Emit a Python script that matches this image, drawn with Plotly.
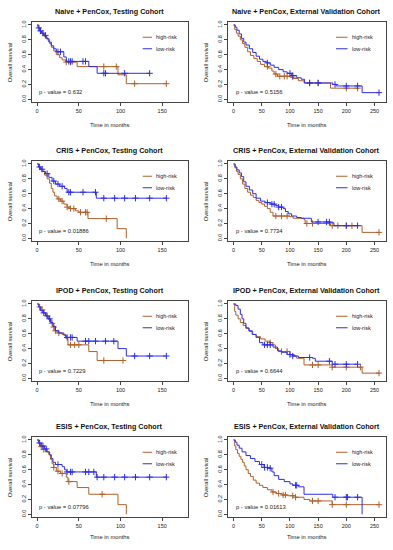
import plotly.graph_objects as go

# ---------------- data ----------------
titles = [
    "Naive + PenCox, Testing Cohort", "Naive + PenCox, External Validation Cohort",
    "CRIS + PenCox, Testing Cohort", "CRIS + PenCox, External Validation Cohort",
    "IPOD + PenCox, Testing Cohort", "IPOD + PenCox, External Validation Cohort",
    "ESIS + PenCox, Testing Cohort", "ESIS + PenCox, External Validation Cohort",
]
p_values = ["0.632", "0.5156", "0.01886", "0.7734", "0.7229", "0.6644", "0.07796", "0.01613"]
group_labels = ["high-risk", "low-risk"]
test_xticks = [0, 50, 100, 150]
ext_xticks = [0, 50, 100, 150, 200, 250]
y_ticks = [0.0, 0.2, 0.4, 0.6, 0.8, 1.0]
y_ticklabels = ["0.0", "0.2", "0.4", "0.6", "0.8", "1.0"]

# Panel 1: Naive testing
naive_test_hi_t = [0, 2, 4, 6, 9, 12, 15, 17, 20, 23, 27, 30, 34, 48, 97, 107, 155]
naive_test_hi_s = [1.0, 0.96, 0.92, 0.88, 0.84, 0.80, 0.75, 0.70, 0.65, 0.60, 0.56, 0.53, 0.50, 0.44, 0.33, 0.21, 0.21]
naive_test_hi_c = [35, 40, 80, 95, 117, 155]
naive_test_lo_t = [0, 1, 3, 5, 8, 11, 14, 17, 20, 23, 32, 35, 62, 72, 135]
naive_test_lo_s = [1.0, 0.96, 0.92, 0.89, 0.86, 0.82, 0.77, 0.72, 0.68, 0.64, 0.57, 0.51, 0.44, 0.35, 0.35]
naive_test_lo_c = [2, 4, 7, 10, 25, 28, 38, 40, 42, 55, 58, 80, 82, 105, 135]

# Panel 2: Naive external
naive_ext_hi_t = [0, 2, 5, 8, 12, 16, 20, 25, 30, 36, 42, 48, 55, 62, 68, 72, 78, 100, 106, 115, 125, 172, 220]
naive_ext_hi_s = [1.0, 0.94, 0.89, 0.85, 0.80, 0.75, 0.70, 0.64, 0.59, 0.55, 0.51, 0.47, 0.44, 0.42, 0.38, 0.34, 0.31, 0.30, 0.28, 0.25, 0.22, 0.15, 0.15]
naive_ext_hi_c = [60, 75, 82, 90, 95, 105, 135, 150, 200, 220]
naive_ext_lo_t = [0, 3, 6, 10, 14, 18, 22, 28, 34, 40, 46, 52, 58, 65, 72, 80, 88, 95, 103, 112, 120, 126, 176, 182, 228, 258]
naive_ext_lo_s = [1.0, 0.97, 0.93, 0.88, 0.82, 0.77, 0.73, 0.68, 0.63, 0.58, 0.54, 0.51, 0.49, 0.46, 0.43, 0.40, 0.37, 0.35, 0.32, 0.29, 0.27, 0.22, 0.20, 0.18, 0.09, 0.09]
naive_ext_lo_c = [60, 100, 105, 135, 150, 180, 200, 220, 258]

# Panel 3: CRIS testing
cris_test_hi_t = [0, 2, 5, 9, 12, 15, 17, 19, 21, 24, 28, 32, 36, 40, 46, 50, 61, 96, 107]
cris_test_hi_s = [1.0, 0.95, 0.90, 0.85, 0.80, 0.74, 0.67, 0.62, 0.57, 0.53, 0.50, 0.46, 0.42, 0.40, 0.37, 0.35, 0.265, 0.13, 0.0]
cris_test_hi_c = [26, 30, 36, 40, 44, 52, 58, 60, 83]
cris_test_lo_t = [0, 2, 4, 7, 10, 14, 18, 22, 27, 33, 36, 71, 155]
cris_test_lo_s = [1.0, 0.96, 0.93, 0.90, 0.87, 0.82, 0.77, 0.73, 0.70, 0.67, 0.62, 0.54, 0.54]
cris_test_lo_c = [3, 6, 12, 20, 25, 30, 38, 40, 55, 70, 80, 93, 105, 118, 135, 155]

# Panel 4: CRIS external
cris_ext_hi_t = [0, 2, 5, 8, 12, 16, 20, 25, 30, 35, 40, 45, 50, 55, 60, 65, 70, 100, 106, 125, 127, 172, 228, 258]
cris_ext_hi_s = [1.0, 0.95, 0.90, 0.86, 0.80, 0.73, 0.67, 0.62, 0.58, 0.55, 0.51, 0.48, 0.46, 0.43, 0.40, 0.35, 0.30, 0.29, 0.27, 0.25, 0.20, 0.17, 0.08, 0.08]
cris_ext_hi_c = [75, 85, 95, 130, 140, 175, 185, 200, 210, 258]
cris_ext_lo_t = [0, 3, 6, 10, 14, 18, 22, 28, 34, 40, 48, 56, 66, 74, 80, 88, 92, 97, 103, 112, 120, 138, 172, 178, 220]
cris_ext_lo_s = [1.0, 0.96, 0.92, 0.88, 0.83, 0.76, 0.70, 0.65, 0.60, 0.54, 0.50, 0.48, 0.46, 0.44, 0.42, 0.40, 0.36, 0.33, 0.30, 0.28, 0.27, 0.22, 0.21, 0.17, 0.17]
cris_ext_lo_c = [60, 68, 72, 80, 85, 150, 165, 170, 200, 220]

# Panel 5: IPOD testing
ipod_test_hi_t = [0, 2, 5, 8, 11, 14, 17, 19, 21, 24, 30, 34, 37, 62, 72, 103]
ipod_test_hi_s = [1.0, 0.96, 0.92, 0.88, 0.83, 0.79, 0.74, 0.69, 0.64, 0.61, 0.59, 0.54, 0.45, 0.36, 0.24, 0.24]
ipod_test_hi_c = [3, 6, 18, 20, 22, 26, 40, 45, 50, 80, 103]
ipod_test_lo_t = [0, 2, 4, 7, 10, 13, 16, 19, 22, 26, 32, 35, 48, 97, 107, 155]
ipod_test_lo_s = [1.0, 0.96, 0.91, 0.88, 0.84, 0.80, 0.75, 0.70, 0.64, 0.61, 0.58, 0.55, 0.50, 0.40, 0.30, 0.30]
ipod_test_lo_c = [8, 12, 15, 36, 40, 42, 58, 62, 70, 82, 92, 117, 135, 155]

# Panel 6: IPOD external
ipod_ext_hi_t = [0, 2, 4, 8, 12, 17, 22, 28, 34, 40, 48, 56, 64, 70, 74, 80, 100, 108, 112, 125, 175, 228, 258]
ipod_ext_hi_s = [1.0, 0.90, 0.85, 0.80, 0.75, 0.71, 0.67, 0.63, 0.59, 0.56, 0.53, 0.50, 0.48, 0.45, 0.40, 0.36, 0.32, 0.30, 0.27, 0.18, 0.15, 0.07, 0.07]
ipod_ext_hi_c = [65, 85, 95, 140, 150, 175, 200, 225, 258]
ipod_ext_lo_t = [0, 4, 8, 12, 15, 18, 22, 27, 33, 40, 46, 52, 70, 78, 85, 95, 105, 115, 140, 145, 175, 220]
ipod_ext_lo_s = [1.0, 0.98, 0.93, 0.86, 0.80, 0.74, 0.68, 0.64, 0.59, 0.55, 0.48, 0.45, 0.42, 0.37, 0.35, 0.32, 0.30, 0.28, 0.27, 0.23, 0.19, 0.19]
ipod_ext_lo_c = [55, 60, 65, 100, 105, 135, 170, 180, 200, 220]

# Panel 7: ESIS testing
esis_test_hi_t = [0, 2, 4, 7, 10, 14, 16, 18, 20, 23, 28, 35, 37, 48, 62, 97, 107]
esis_test_hi_s = [1.0, 0.95, 0.91, 0.87, 0.84, 0.80, 0.74, 0.68, 0.63, 0.58, 0.55, 0.50, 0.44, 0.36, 0.27, 0.13, 0.0]
esis_test_hi_c = [5, 8, 20, 25, 30, 38, 78]
esis_test_lo_t = [0, 2, 5, 9, 12, 15, 17, 19, 22, 30, 33, 35, 71, 155]
esis_test_lo_s = [1.0, 0.96, 0.92, 0.88, 0.84, 0.80, 0.75, 0.70, 0.67, 0.64, 0.60, 0.57, 0.50, 0.50]
esis_test_lo_c = [3, 7, 11, 25, 36, 40, 42, 58, 62, 68, 72, 80, 93, 105, 118, 135, 155]

# Panel 8: ESIS external
esis_ext_hi_t = [0, 2, 4, 7, 10, 13, 16, 19, 22, 26, 30, 35, 40, 46, 52, 60, 68, 76, 86, 96, 110, 125, 135, 175, 258]
esis_ext_hi_s = [1.0, 0.92, 0.87, 0.82, 0.78, 0.74, 0.70, 0.65, 0.60, 0.55, 0.51, 0.46, 0.42, 0.39, 0.36, 0.33, 0.30, 0.28, 0.26, 0.25, 0.23, 0.20, 0.18, 0.13, 0.13]
esis_ext_hi_c = [70, 80, 88, 92, 105, 110, 140, 150, 175, 200, 258]
esis_ext_lo_t = [0, 3, 6, 10, 15, 22, 30, 38, 46, 54, 62, 68, 72, 80, 90, 100, 105, 115, 125, 172, 176, 228]
esis_ext_lo_s = [1.0, 0.97, 0.93, 0.89, 0.84, 0.79, 0.75, 0.71, 0.67, 0.63, 0.62, 0.57, 0.52, 0.47, 0.44, 0.41, 0.39, 0.37, 0.27, 0.27, 0.23, 0.0]
esis_ext_lo_c = [50, 55, 60, 65, 110, 112, 180, 200, 202, 220]

panels = [
    (naive_test_hi_t, naive_test_hi_s, naive_test_hi_c, naive_test_lo_t, naive_test_lo_s, naive_test_lo_c),
    (naive_ext_hi_t, naive_ext_hi_s, naive_ext_hi_c, naive_ext_lo_t, naive_ext_lo_s, naive_ext_lo_c),
    (cris_test_hi_t, cris_test_hi_s, cris_test_hi_c, cris_test_lo_t, cris_test_lo_s, cris_test_lo_c),
    (cris_ext_hi_t, cris_ext_hi_s, cris_ext_hi_c, cris_ext_lo_t, cris_ext_lo_s, cris_ext_lo_c),
    (ipod_test_hi_t, ipod_test_hi_s, ipod_test_hi_c, ipod_test_lo_t, ipod_test_lo_s, ipod_test_lo_c),
    (ipod_ext_hi_t, ipod_ext_hi_s, ipod_ext_hi_c, ipod_ext_lo_t, ipod_ext_lo_s, ipod_ext_lo_c),
    (esis_test_hi_t, esis_test_hi_s, esis_test_hi_c, esis_test_lo_t, esis_test_lo_s, esis_test_lo_c),
    (esis_ext_hi_t, esis_ext_hi_s, esis_ext_hi_c, esis_ext_lo_t, esis_ext_lo_s, esis_ext_lo_c),
]

# ---------------- styling / layout ----------------
W, H = 393, 550
HI_COLOR = "#B0602A"
LO_COLOR = "#2E2EE6"
AX_COLOR = "#444444"
TXT = "#222222"
FONT = "Liberation Sans, Arial, sans-serif"
row_off = [0, 139, 279, 415]
col_box = [(31.7, 188.0), (227.7, 386.0)]
box_top, box_bot = 22.0, 102.3


def px(x):
    return x / W


def py(y):
    return 1 - y / H


def surv_at(ts, ss, t):
    v = ss[0]
    for ti, si in zip(ts, ss):
        if ti <= t:
            v = si
    return v


fig = go.Figure()
annotations = []
shapes = []
layout_axes = {}

for i, (hi_t, hi_s, hi_c, lo_t, lo_s, lo_c) in enumerate(panels):
    r, c = divmod(i, 2)
    off = row_off[r]
    x0, x1 = col_box[c]
    k = i + 1
    xa = "x" if k == 1 else f"x{k}"
    ya = "y" if k == 1 else f"y{k}"
    xkey = "xaxis" if k == 1 else f"xaxis{k}"
    ykey = "yaxis" if k == 1 else f"yaxis{k}"
    is_test = (c == 0)
    xr = [-6.5, 181] if is_test else [-10.4, 270.4]
    xt = test_xticks if is_test else ext_xticks

    for t, s, cens, col in ((hi_t, hi_s, hi_c, HI_COLOR), (lo_t, lo_s, lo_c, LO_COLOR)):
        fig.add_trace(go.Scatter(x=t, y=s, mode="lines", line=dict(color=col, width=1, shape="hv"),
                                 xaxis=xa, yaxis=ya, showlegend=False, hoverinfo="skip"))
        fig.add_trace(go.Scatter(x=cens, y=[surv_at(t, s, cc) for cc in cens], mode="markers",
                                 marker=dict(symbol="cross-thin", size=4.5, line=dict(color=col, width=1)),
                                 xaxis=xa, yaxis=ya, showlegend=False, hoverinfo="skip"))

    axis_common = dict(showgrid=False, zeroline=False, showline=True, mirror=True,
                       linecolor=AX_COLOR, linewidth=0.8, ticks="outside", ticklen=3,
                       tickwidth=0.8, tickcolor=AX_COLOR, automargin=False,
                       tickfont=dict(family=FONT, size=5.5, color=TXT))
    layout_axes[xkey] = dict(axis_common, domain=[px(x0), px(x1)], range=xr, tickvals=xt,
                             anchor=ya)
    layout_axes[ykey] = dict(axis_common, domain=[py(box_bot + off), py(box_top + off)],
                             range=[-0.04, 1.04], tickvals=y_ticks, ticktext=y_ticklabels,
                             tickangle=-90, anchor=xa)

    cx = (x0 + x1) / 2
    annotations.append(dict(text="<b>" + titles[i] + "</b>", x=px(cx), y=py(11 + off), xref="paper",
                            yref="paper", showarrow=False, xanchor="center", yanchor="middle",
                            font=dict(family=FONT, size=7.2, color="#111111")))
    annotations.append(dict(text="Time in months", x=px(cx), y=py(min(125 + off, 537)), xref="paper",
                            yref="paper", showarrow=False, xanchor="center", yanchor="middle",
                            font=dict(family=FONT, size=5.8, color=TXT)))
    annotations.append(dict(text="Overall survival", x=px(x0 - 21.5), y=py((box_top + box_bot) / 2 + off),
                            xref="paper", yref="paper", showarrow=False, textangle=-90,
                            xanchor="center", yanchor="middle",
                            font=dict(family=FONT, size=5.8, color=TXT)))
    annotations.append(dict(text="p - value = " + p_values[i], x=0, y=0.1, xref=xa, yref=ya,
                            showarrow=False, xanchor="left", yanchor="middle",
                            font=dict(family=FONT, size=5.8, color=TXT)))
    # legend
    lx0, lx1, tx = (0.71, 0.77, 0.785) if is_test else (0.684, 0.757, 0.772)
    for lab, col, ly in ((group_labels[0], HI_COLOR, 0.835), (group_labels[1], LO_COLOR, 0.68)):
        shapes.append(dict(type="line", xref=f"{xa} domain", yref=ya, x0=lx0, x1=lx1, y0=ly, y1=ly,
                           line=dict(color=col, width=1)))
        annotations.append(dict(text=lab, x=tx, y=ly, xref=f"{xa} domain", yref=ya, showarrow=False,
                                xanchor="left", yanchor="middle",
                                font=dict(family=FONT, size=5.5, color=TXT)))

fig.update_layout(width=W, height=H, margin=dict(l=0, r=0, t=0, b=0),
                  paper_bgcolor="white", plot_bgcolor="white",
                  annotations=annotations, shapes=shapes, showlegend=False, **layout_axes)

fig.write_html("out.html", config={"displayModeBar": False},
               post_script="document.body.style.margin='0px';document.body.style.overflow='hidden';")
